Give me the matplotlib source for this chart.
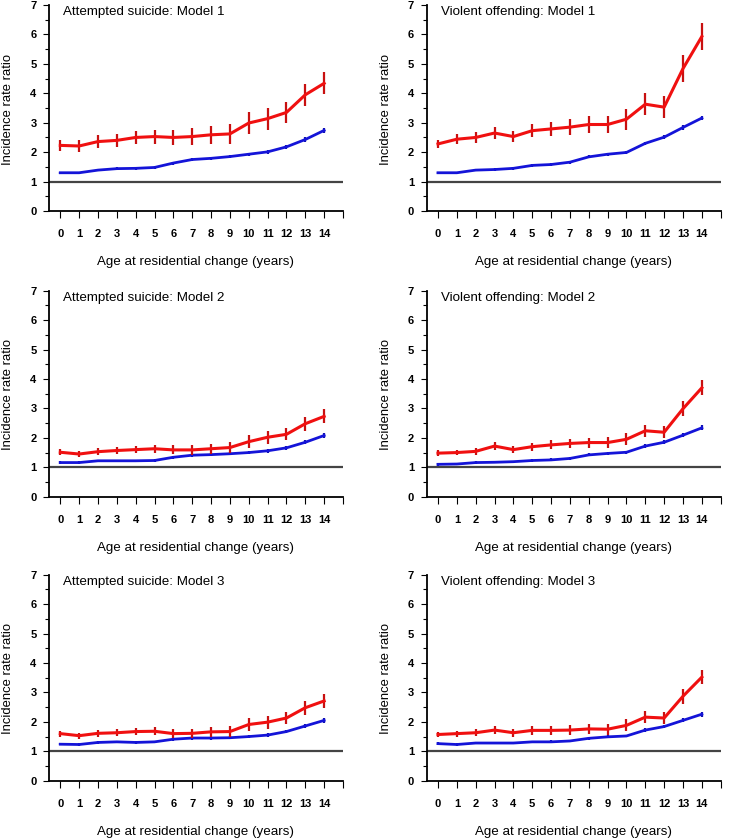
import numpy as np
import matplotlib
matplotlib.use("Agg")
import matplotlib.pyplot as plt
from matplotlib.ticker import MultipleLocator

plt.rcParams['font.family'] = ['Liberation Sans', 'DejaVu Sans']

ages = np.arange(0, 15)

titles = ["Attempted suicide: Model 1", "Violent offending: Model 1",
          "Attempted suicide: Model 2", "Violent offending: Model 2",
          "Attempted suicide: Model 3", "Violent offending: Model 3"]

# red series (point estimates and CI half-widths)
red_as1 = [2.23, 2.21, 2.36, 2.40, 2.50, 2.53, 2.50, 2.53, 2.59, 2.62, 2.99, 3.14, 3.35, 3.95, 4.34]
red_as1_err = [0.20, 0.20, 0.22, 0.22, 0.22, 0.24, 0.27, 0.30, 0.31, 0.33, 0.37, 0.37, 0.37, 0.38, 0.37]
red_vo1 = [2.28, 2.44, 2.50, 2.65, 2.53, 2.73, 2.79, 2.85, 2.94, 2.94, 3.12, 3.63, 3.53, 4.84, 5.93]
red_vo1_err = [0.15, 0.17, 0.20, 0.20, 0.20, 0.22, 0.25, 0.27, 0.28, 0.30, 0.35, 0.37, 0.37, 0.45, 0.45]
red_as2 = [1.51, 1.45, 1.53, 1.57, 1.60, 1.63, 1.59, 1.59, 1.63, 1.67, 1.87, 2.02, 2.12, 2.48, 2.73]
red_as2_err = [0.10, 0.10, 0.11, 0.12, 0.13, 0.14, 0.15, 0.16, 0.17, 0.18, 0.21, 0.22, 0.20, 0.24, 0.24]
red_vo2 = [1.48, 1.50, 1.54, 1.72, 1.60, 1.70, 1.76, 1.81, 1.84, 1.84, 1.95, 2.24, 2.19, 2.99, 3.70]
red_vo2_err = [0.10, 0.10, 0.12, 0.13, 0.13, 0.14, 0.15, 0.16, 0.17, 0.18, 0.20, 0.20, 0.20, 0.25, 0.26]
red_as3 = [1.60, 1.53, 1.61, 1.63, 1.67, 1.68, 1.60, 1.61, 1.66, 1.67, 1.91, 1.99, 2.13, 2.48, 2.71]
red_as3_err = [0.10, 0.10, 0.11, 0.12, 0.13, 0.14, 0.15, 0.16, 0.17, 0.18, 0.21, 0.22, 0.21, 0.24, 0.24]
red_vo3 = [1.57, 1.60, 1.63, 1.72, 1.63, 1.71, 1.71, 1.72, 1.76, 1.75, 1.88, 2.16, 2.13, 2.87, 3.52]
red_vo3_err = [0.10, 0.10, 0.12, 0.13, 0.13, 0.14, 0.15, 0.16, 0.17, 0.18, 0.20, 0.20, 0.20, 0.25, 0.25]

# blue series
blue_as1 = [1.30, 1.30, 1.39, 1.44, 1.45, 1.48, 1.63, 1.75, 1.79, 1.85, 1.93, 2.01, 2.18, 2.43, 2.74]
blue_vo1 = [1.30, 1.30, 1.39, 1.41, 1.45, 1.55, 1.58, 1.66, 1.84, 1.93, 1.99, 2.30, 2.51, 2.84, 3.16]
blue_as2 = [1.16, 1.16, 1.22, 1.22, 1.22, 1.23, 1.34, 1.41, 1.43, 1.46, 1.50, 1.56, 1.66, 1.85, 2.08]
blue_vo2 = [1.10, 1.11, 1.16, 1.17, 1.19, 1.23, 1.25, 1.30, 1.42, 1.47, 1.51, 1.72, 1.85, 2.09, 2.34]
blue_as3 = [1.24, 1.23, 1.30, 1.32, 1.30, 1.32, 1.41, 1.45, 1.45, 1.46, 1.50, 1.55, 1.67, 1.86, 2.05]
blue_vo3 = [1.26, 1.23, 1.28, 1.28, 1.28, 1.32, 1.32, 1.35, 1.44, 1.49, 1.52, 1.72, 1.84, 2.05, 2.26]
blue_err = [0.04, 0.04, 0.04, 0.04, 0.04, 0.04, 0.05, 0.05, 0.05, 0.05, 0.05, 0.06, 0.06, 0.07, 0.08]

reds = [red_as1, red_vo1, red_as2, red_vo2, red_as3, red_vo3]
red_errs = [red_as1_err, red_vo1_err, red_as2_err, red_vo2_err, red_as3_err, red_vo3_err]
blues = [blue_as1, blue_vo1, blue_as2, blue_vo2, blue_as3, blue_vo3]

fig = plt.figure(figsize=(7.29, 8.4), dpi=100)

lefts = [0.0672, 0.5853]
bottoms = [0.7488, 0.4087, 0.0706]
w, h = 0.4033, 0.2452

for i in range(6):
    ax = fig.add_axes([lefts[i % 2], bottoms[i // 2], w, h])

    ax.axhline(1, color="#444444", lw=1.6, zorder=1)

    ax.errorbar(ages, blues[i], yerr=blue_err, color="#1414d8", ecolor="#1010b0",
                lw=2.0, elinewidth=1.6, capsize=0, zorder=2)
    ax.errorbar(ages, reds[i], yerr=red_errs[i], color="#f01010", ecolor="#c81010",
                lw=2.2, elinewidth=1.6, capsize=0, zorder=3)

    ax.set_xlim(-0.6, 15)
    ax.set_ylim(0, 7)
    ax.spines["top"].set_visible(False)
    ax.spines["right"].set_visible(False)
    ax.spines["left"].set_linewidth(1.3)
    ax.spines["bottom"].set_linewidth(1.3)

    ax.set_xticks(np.arange(0, 16))
    ax.set_xticklabels([str(a) for a in ages] + [""])
    ax.yaxis.set_major_locator(MultipleLocator(1))
    ax.yaxis.set_minor_locator(MultipleLocator(0.5))
    ax.tick_params(axis="x", length=5, width=0.8, pad=8, labelsize=8)
    ax.tick_params(axis="y", which="major", length=4, width=0.8, pad=5, labelsize=8)
    ax.tick_params(axis="y", which="minor", length=3, width=0.8)
    for lab in ax.get_xticklabels() + ax.get_yticklabels():
        lab.set_fontweight("bold")

    ax.text(0.048, 0.966, titles[i], transform=ax.transAxes, fontsize=9.6,
            ha="left", va="center")
    ax.text(0.5, -0.248, "Age at residential change (years)", transform=ax.transAxes,
            fontsize=9.6, ha="center", va="center")
    ax.text(-0.139, 0.495, "Incidence rate ratio", transform=ax.transAxes,
            fontsize=9.4, ha="center", va="center", rotation=90)

fig.savefig("out.png", dpi=100)
